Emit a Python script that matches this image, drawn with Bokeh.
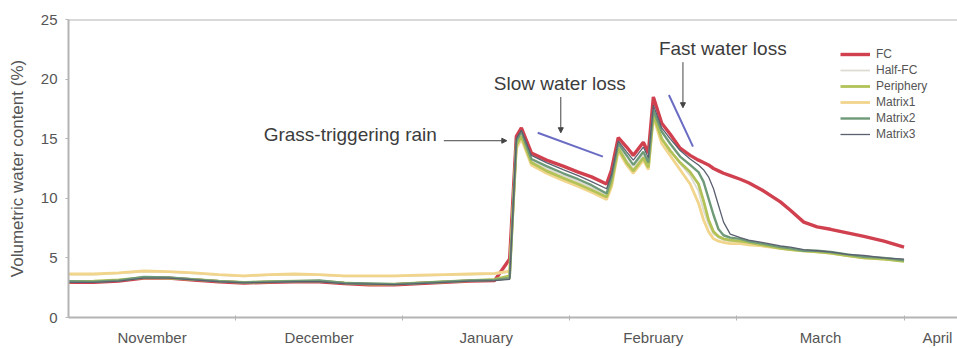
from bokeh.plotting import figure
from bokeh.models import FixedTicker, Span, Label, Arrow, NormalHead, Legend, LegendItem
from bokeh.embed import file_html
from bokeh.resources import INLINE

# x positions in months since 1 November
months_x = [0.0, 0.15, 0.3, 0.45, 0.6, 0.75, 0.9, 1.05, 1.2, 1.35, 1.5, 1.65, 1.8, 1.95, 2.1, 2.25, 2.4, 2.55,
            2.64, 2.68, 2.71, 2.77, 2.86, 2.96, 3.05, 3.13, 3.22, 3.25, 3.29, 3.34, 3.38, 3.44, 3.47, 3.50,
            3.55, 3.60, 3.66, 3.72, 3.77, 3.80, 3.83, 3.86, 3.89, 3.92, 3.96, 4.02, 4.07, 4.15, 4.26, 4.32,
            4.40, 4.48, 4.56, 4.66, 4.76, 4.88, 5.0]

fc = [2.95, 2.95, 3.05, 3.3, 3.3, 3.15, 3.0, 2.9, 2.95, 3.0, 3.0, 2.85, 2.75, 2.75, 2.85, 2.95, 3.05, 3.1, 4.9,
      15.2, 15.9, 13.8, 13.2, 12.7, 12.2, 11.8, 11.2, 12.4, 15.1, 14.3, 13.6, 14.7, 13.8, 18.5, 16.3, 15.4, 14.2,
      13.6, 13.2, 13.0, 12.8, 12.5, 12.3, 12.1, 11.9, 11.6, 11.3, 10.7, 9.7, 9.0, 8.0, 7.6, 7.4, 7.1, 6.8, 6.4, 5.9]
half_fc = [3.6, 3.6, 3.7, 3.85, 3.8, 3.7, 3.55, 3.45, 3.55, 3.6, 3.55, 3.45, 3.45, 3.45, 3.5, 3.55, 3.6, 3.65, 3.8,
           14.4, 15.3, 13.1, 12.5, 11.9, 11.4, 10.9, 10.3, 11.5, 14.4, 13.2, 12.5, 13.6, 12.8, 17.2, 15.0, 14.1, 12.9,
           11.9, 10.6, 9.0, 7.8, 7.0, 6.7, 6.5, 6.4, 6.3, 6.2, 6.0, 5.8, 5.7, 5.6, 5.5, 5.4, 5.2, 5.0, 4.9, 4.8]
periphery = [3.0, 3.05, 3.15, 3.35, 3.3, 3.2, 3.05, 2.95, 3.0, 3.05, 3.05, 2.9, 2.8, 2.8, 2.9, 3.0, 3.1, 3.2, 3.5,
             14.5, 15.2, 13.0, 12.3, 11.7, 11.2, 10.7, 10.1, 11.3, 14.2, 13.0, 12.3, 13.4, 12.6, 17.0, 15.0, 14.0, 13.0,
             12.2, 11.2, 9.8, 8.2, 7.2, 6.8, 6.6, 6.5, 6.4, 6.3, 6.1, 5.8, 5.7, 5.6, 5.5, 5.4, 5.2, 5.0, 4.9, 4.7]
matrix1 = [3.65, 3.65, 3.75, 3.9, 3.85, 3.75, 3.6, 3.5, 3.6, 3.65, 3.6, 3.5, 3.5, 3.5, 3.55, 3.6, 3.65, 3.7, 3.9,
           14.2, 15.0, 12.8, 12.1, 11.5, 11.0, 10.5, 9.9, 11.0, 14.0, 12.8, 12.1, 13.2, 12.4, 16.8, 14.6, 13.6, 12.4,
           11.2, 9.6, 8.2, 7.2, 6.6, 6.4, 6.3, 6.2, 6.2, 6.1, 6.0, 5.8, 5.7, 5.6, 5.5, 5.4, 5.2, 5.0, 4.9, 4.8]
matrix2 = [3.05, 3.0, 3.1, 3.4, 3.35, 3.2, 3.05, 2.95, 3.0, 3.05, 3.1, 2.9, 2.85, 2.8, 2.9, 3.0, 3.1, 3.15, 3.3,
           14.8, 15.6, 13.3, 12.7, 12.1, 11.6, 11.1, 10.4, 11.8, 14.6, 13.6, 12.8, 13.9, 13.0, 17.4, 15.6, 14.6, 13.5,
           12.8, 12.2, 11.4, 10.0, 8.6, 7.4, 6.9, 6.7, 6.6, 6.4, 6.2, 5.9, 5.8, 5.6, 5.6, 5.5, 5.3, 5.1, 5.0, 4.8]
matrix3 = [2.95, 2.95, 3.05, 3.3, 3.3, 3.15, 3.0, 2.9, 2.95, 3.0, 3.0, 2.85, 2.8, 2.75, 2.85, 2.95, 3.05, 3.1, 3.2,
           15.0, 15.7, 13.6, 13.0, 12.4, 11.9, 11.4, 10.8, 12.0, 14.8, 13.9, 13.2, 14.3, 13.4, 17.8, 15.9, 15.0, 14.0,
           13.3, 12.8, 12.4, 11.8, 10.8, 9.4, 8.0, 7.0, 6.7, 6.5, 6.3, 6.0, 5.9, 5.7, 5.6, 5.5, 5.3, 5.2, 5.0, 4.9]

month_labels = ["November", "December", "January", "February", "March", "April"]
month_label_pos = [0.5, 1.5, 2.5, 3.5, 4.5, 5.2]
month_bounds = [1, 2, 3, 4, 5]
y_ticks = [0, 5, 10, 15, 20, 25]

# annotations (data coordinates)
ann_texts = ["Grass-triggering rain", "Slow water loss", "Fast water loss"]
ann_x = [1.168, 2.545, 3.533]
ann_y = [15.33, 19.67, 22.58]
arrow_x0 = [2.246, 2.946, 3.677]
arrow_y0 = [14.83, 18.5, 21.42]
arrow_x1 = [2.623, 2.946, 3.677]
arrow_y1 = [14.83, 15.5, 17.6]
trend_x0 = [2.808, 3.593]
trend_y0 = [15.5, 18.67]
trend_x1 = [3.198, 3.737]
trend_y1 = [13.5, 14.33]

FONT = "Liberation Sans"
GREY = "#555555"

p = figure(width=957, height=348, x_range=(0, 5.32), y_range=(0, 25),
           output_backend="svg", toolbar_location=None,
           min_border_left=68, min_border_right=0, min_border_top=19, min_border_bottom=29)
p.outline_line_color = None
p.grid.visible = False
p.background_fill_color = "white"
p.border_fill_color = "white"

# axes
p.yaxis.ticker = FixedTicker(ticks=y_ticks)
p.yaxis.axis_label = "Volumetric water content (%)"
p.yaxis.axis_label_text_font = FONT
p.yaxis.axis_label_text_font_style = "normal"
p.yaxis.axis_label_text_font_size = "17px"
p.yaxis.axis_label_text_color = GREY
p.yaxis.axis_label_standoff = 11
p.yaxis.major_label_text_font = FONT
p.yaxis.major_label_text_font_size = "15px"
p.yaxis.major_label_text_color = GREY
p.yaxis.major_tick_out = 3
p.yaxis.major_tick_in = 0
p.yaxis.major_label_standoff = 8

p.xaxis.ticker = FixedTicker(ticks=month_label_pos, minor_ticks=month_bounds)
p.xaxis.major_label_overrides = {pos: lab for pos, lab in zip(month_label_pos, month_labels)}
p.xaxis.major_tick_out = 0
p.xaxis.major_tick_in = 0
p.xaxis.minor_tick_out = 3
p.xaxis.minor_tick_in = 2
p.xaxis.major_label_text_font = FONT
p.xaxis.major_label_text_font_size = "15px"
p.xaxis.major_label_text_color = GREY
p.xaxis.major_label_standoff = 8

for ax in (p.xaxis, p.yaxis):
    ax.axis_line_color = "#b4b4b4"
    ax.axis_line_width = 2
    ax.major_tick_line_color = "#b4b4b4"
    ax.minor_tick_line_color = "#b4b4b4"
p.yaxis.minor_tick_line_color = None

p.add_layout(Span(location=25, dimension="width", line_color="#b4b4b4", line_width=2))

# series (FC drawn first so the other sensors sit on top of it where they overlap)
r_fc = p.line(months_x, fc, line_color="#d0404e", line_width=3.4)
r_half = p.line(months_x, half_fc, line_color="#dedcd2", line_width=1.8)
r_m1 = p.line(months_x, matrix1, line_color="#f1d58c", line_width=2.8)
r_per = p.line(months_x, periphery, line_color="#b2c257", line_width=2.8)
r_m2 = p.line(months_x, matrix2, line_color="#6f9a78", line_width=2.4)
r_m3 = p.line(months_x, matrix3, line_color="#5b6070", line_width=1.3)

legend = Legend(items=[
    LegendItem(label="FC", renderers=[r_fc]),
    LegendItem(label="Half-FC", renderers=[r_half]),
    LegendItem(label="Periphery", renderers=[r_per]),
    LegendItem(label="Matrix1", renderers=[r_m1]),
    LegendItem(label="Matrix2", renderers=[r_m2]),
    LegendItem(label="Matrix3", renderers=[r_m3]),
], location=(772, 175))
legend.border_line_color = None
legend.background_fill_alpha = 0
legend.label_text_font = FONT
legend.label_text_font_size = "12px"
legend.label_text_color = GREY
legend.glyph_width = 30
legend.glyph_height = 16
legend.label_height = 16
legend.spacing = 0
legend.padding = 4
legend.margin = 0
legend.label_standoff = 6
p.add_layout(legend)

# annotations
for t, x, y in zip(ann_texts, ann_x, ann_y):
    p.add_layout(Label(x=x, y=y, text=t, text_font=FONT, text_font_size="19px",
                       text_color="#3c3c3c", text_baseline="middle", text_align="left"))
for x0, y0, x1, y1 in zip(arrow_x0, arrow_y0, arrow_x1, arrow_y1):
    p.add_layout(Arrow(end=NormalHead(size=5, fill_color="#444444", line_color="#444444"),
                       x_start=x0, y_start=y0, x_end=x1, y_end=y1,
                       line_color="#444444", line_width=1))
p.segment(trend_x0, trend_y0, trend_x1, trend_y1, line_color="#6a6cc4", line_width=2)

open("out.html", "w").write(file_html(p, INLINE))
